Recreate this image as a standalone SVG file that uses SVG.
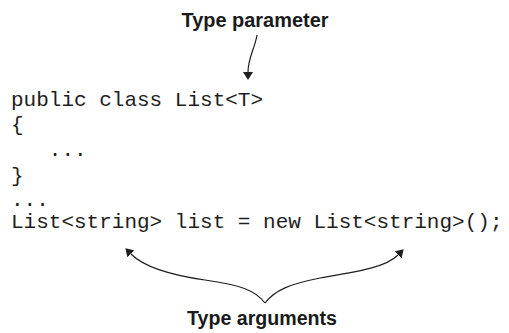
<svg xmlns="http://www.w3.org/2000/svg" width="509" height="333" viewBox="0 0 509 333">
  <defs>
    <style>
      .code { font-family: "Liberation Mono", "Courier New", monospace; font-size: 21px; fill: #1e1e1e; }
      .label { font-family: "Liberation Sans", Arial, sans-serif; font-size: 20px; font-weight: bold; fill: #1a1a1a; }
      .conn { fill: none; stroke: #1e1e1e; stroke-width: 1.2; }
    </style>
    <marker id="arrow" viewBox="0 0 8 10" refX="0" refY="5" markerWidth="8" markerHeight="10" markerUnits="userSpaceOnUse" orient="auto">
      <path d="M0,0 L8,5 L0,10 z" fill="#1e1e1e"/>
    </marker>
  </defs>
  <rect width="509" height="333" fill="#ffffff"/>

  <g id="label-type-parameter">
    <text class="label" x="255" y="27" text-anchor="middle" textLength="147" lengthAdjust="spacingAndGlyphs">Type parameter</text>
  </g>

  <g id="code">
    <text class="code" x="11" y="106">public class List&lt;T&gt;</text>
    <text class="code" x="11" y="131">{</text>
    <text class="code" x="48.8" y="156">...</text>
    <text class="code" x="11" y="182">}</text>
    <text class="code" x="11" y="206">...</text>
    <text class="code" x="11" y="228">List&lt;string&gt; list = new List&lt;string&gt;();</text>
  </g>

  <g id="label-type-arguments">
    <text class="label" x="262" y="325" text-anchor="middle" textLength="150" lengthAdjust="spacingAndGlyphs">Type arguments</text>
  </g>

  <g id="connectors">
    <path class="conn" d="M257,35 C255,48 248,58 248,72" marker-end="url(#arrow)"/>
    <path class="conn" d="M265,303 C255,290 240,285 205,280 C170,275 144,267 131,254" marker-end="url(#arrow)"/>
    <path class="conn" d="M265,303 C275,290 290,284 320,278 C355,272 385,268 398,255" marker-end="url(#arrow)"/>
  </g>
</svg>
